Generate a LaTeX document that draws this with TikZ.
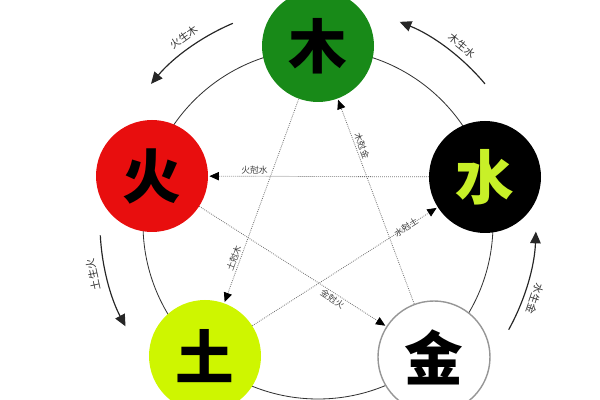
\documentclass[tikz,border=0pt]{standalone}
\usepackage{fontspec}
\newfontfamily\cjk{Noto Sans CJK SC}
\usepackage{tikz}
\usetikzlibrary{arrows.meta, calc}
\definecolor{mugreen}{RGB}{24,138,24}
\definecolor{huored}{RGB}{232,14,14}
\definecolor{tuyellow}{RGB}{206,246,0}
\definecolor{shuiyellow}{RGB}{200,240,40}
\definecolor{jingray}{RGB}{150,150,150}
\definecolor{ringgray}{RGB}{50,50,50}
\definecolor{dotgray}{RGB}{115,115,115}

\begin{document}
\begin{tikzpicture}[
        elem/.style={circle, minimum size=3.36cm, inner sep=0pt, font=\cjk\bfseries\fontsize{50}{50}\selectfont},
        sheng/.style={-{Triangle[length=10pt, width=9pt]}, line width=1pt, draw=black!85},
        ke/.style={-{Triangle[length=8pt, width=7pt, color=black]}, densely dotted, draw=dotgray, line width=0.7pt, shorten >=1pt},
        lbl/.style={font=\cjk\fontsize{9}{9}\selectfont, text=black!80},
        kelbl/.style={font=\cjk\fontsize{7.5}{8}\selectfont, text=black!75, inner sep=1.5pt}
    ]
        \useasboundingbox (0,0) rectangle (18,12);
        \coordinate (o) at (9.54, 5.28);
        \draw [ringgray, line width=0.7pt] (o) circle (5.25);

        \node[elem, fill=mugreen] at (9.54, 10.62)   (mu) {木};
        \node[elem, fill=black, text=shuiyellow] at (14.55, 6.69)   (shui) {水};
        \node[elem, fill=white, draw=jingray, line width=1.2pt] at (13.02, 1.29)   (jin) {金};
        \node[elem, fill=tuyellow] at (6.15, 1.32)   (tu) {土};
        \node[elem, fill=huored] at (4.56, 6.72)   (huo) {火};

        % outer ring
        \draw [sheng] ($(o)+(113:6.54)$) arc[start angle=113, end angle=140, radius=6.54];
        \draw [sheng] ($(o)+(40:6.54)$) arc[start angle=40, end angle=68, radius=6.54];
        \draw [sheng] ($(o)+(-29:6.54)$) arc[start angle=-29, end angle=-2, radius=6.54];
        \draw [sheng] ($(o)+(183:6.54)$) arc[start angle=183, end angle=208, radius=6.54];
        \node[lbl, rotate=35.6] at ($(o)+(125.6:6.9)$)   (s1) {火生木};
        \node[lbl, rotate=-39] at ($(o)+(51:6.88)$)   (s2) {木生水};
        \node[lbl, rotate=-109] at ($(o)+(-19:6.88)$)   (s3) {水生金};
        \node[lbl, rotate=102.7] at ($(o)+(192.7:6.92)$)   (s4) {土生火};

        % inner star
        \draw [ke] (shui) -- (huo) node[kelbl, pos=0.79, sloped, above] (k1) {火尅水};
        \draw [ke] (jin) -- (mu) node[kelbl, pos=0.76, sloped, above] (k2) {木尅金};
        \draw [ke] (tu) -- (shui) node[kelbl, pos=0.83, sloped] (k3) {水尅土};
        \draw [ke] (mu) -- (tu) node[kelbl, pos=0.79, sloped, above] (k4) {土尅木};
        \draw [ke] (huo) -- (jin) node[kelbl, pos=0.73, sloped, below] (k5) {金尅火};
    \end{tikzpicture}
\end{document}
